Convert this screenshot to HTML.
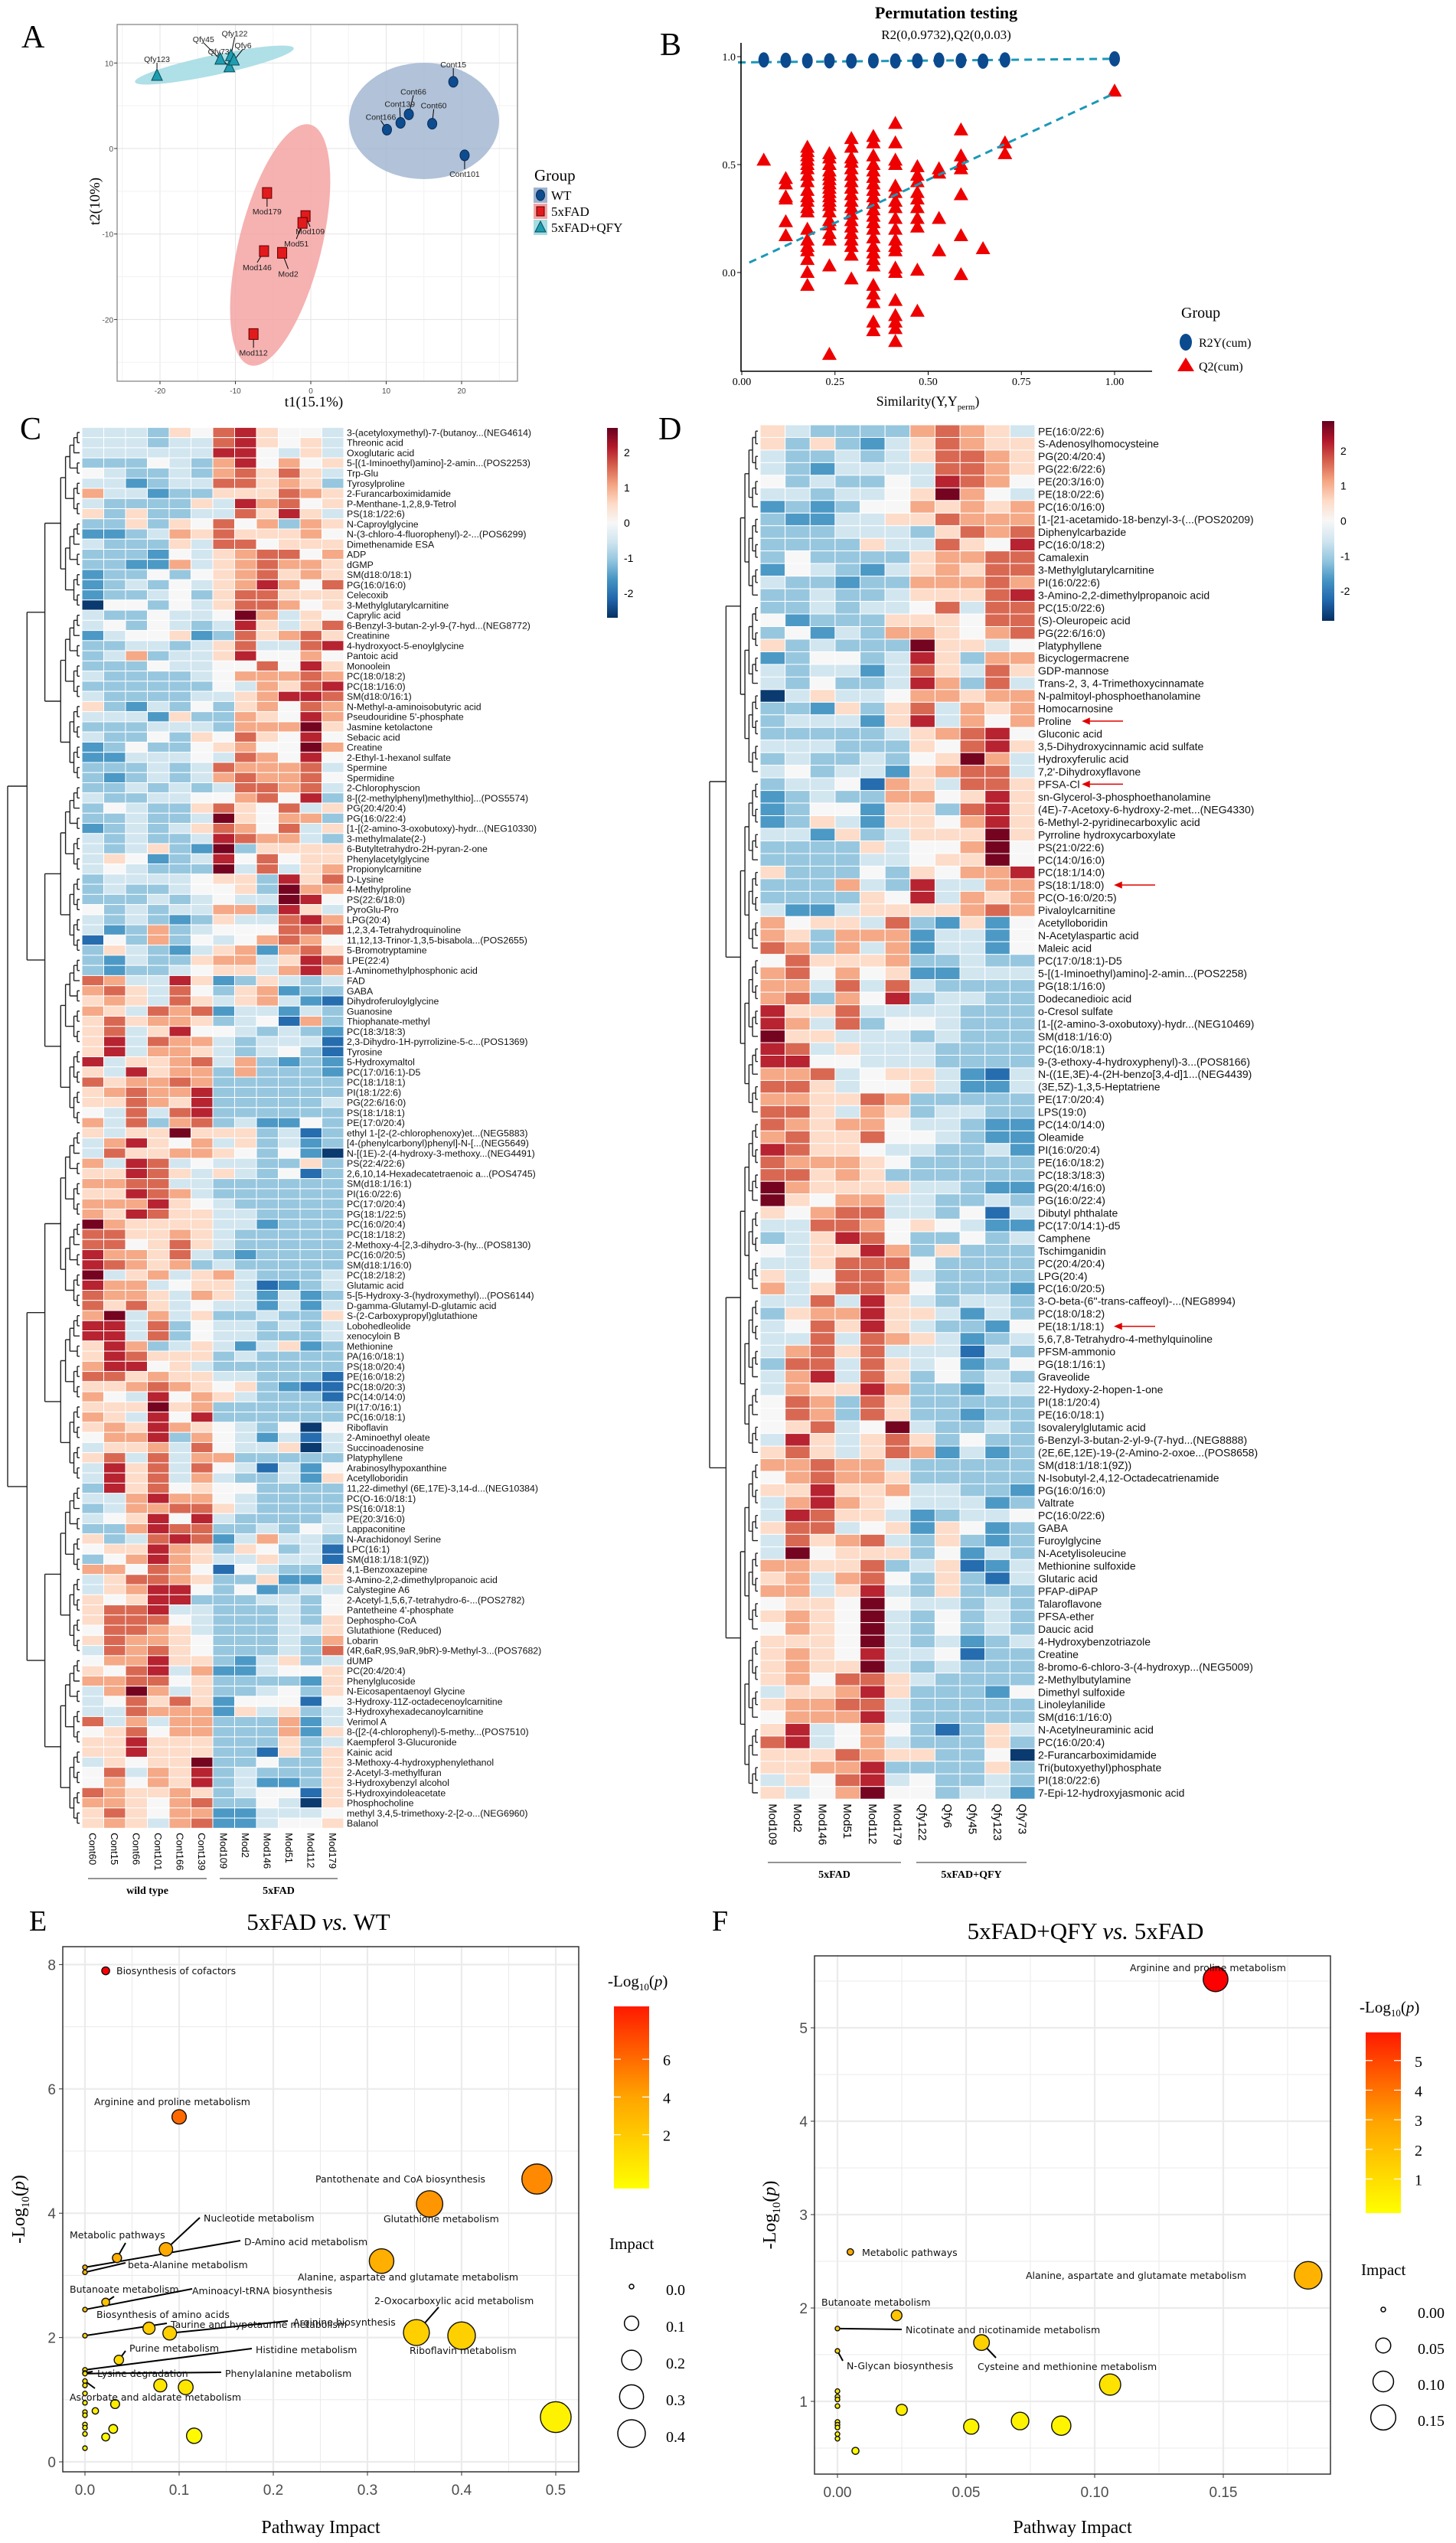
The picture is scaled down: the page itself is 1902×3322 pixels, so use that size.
<!DOCTYPE html>
<html><head><meta charset="utf-8"><title>Metabolomics figure</title>
<style>
html,body{margin:0;padding:0;background:#fff;}
svg{display:block;}
.sans{font-family:"Liberation Sans",Arial,sans-serif;}
.serif{font-family:"Liberation Serif","Times New Roman",serif;}
.dv{font-family:"DejaVu Sans","Liberation Sans",sans-serif;}
</style></head>
<body>
<svg id="fig" xmlns="http://www.w3.org/2000/svg" width="1902" height="3322" viewBox="0 0 1902 3322">
<defs>
<linearGradient id="hmGrad" x1="0" y1="0" x2="0" y2="1">
<stop offset="0" stop-color="#67001F"/><stop offset="0.1" stop-color="#B2182B"/><stop offset="0.2" stop-color="#D6604D"/><stop offset="0.3" stop-color="#F4A582"/><stop offset="0.4" stop-color="#FDDBC7"/><stop offset="0.5" stop-color="#F7F7F7"/><stop offset="0.6" stop-color="#D1E5F0"/><stop offset="0.7" stop-color="#92C5DE"/><stop offset="0.8" stop-color="#4393C3"/><stop offset="0.9" stop-color="#2166AC"/><stop offset="1" stop-color="#053061"/>
</linearGradient>
<linearGradient id="ylGrad" x1="0" y1="1" x2="0" y2="0">
<stop offset="0" stop-color="#FFFF00"/><stop offset="0.5" stop-color="#FFA500"/><stop offset="1" stop-color="#FF1A00"/>
</linearGradient>
</defs>
<text x="28" y="62" class="serif" font-size="42">A</text>
<text x="862" y="72" class="serif" font-size="42">B</text>
<text x="26" y="574" class="serif" font-size="42">C</text>
<text x="860" y="574" class="serif" font-size="42">D</text>
<text x="38" y="2522" class="serif" font-size="38">E</text>
<text x="930" y="2522" class="serif" font-size="38">F</text>
</svg>
<script>
// ================= DATA =================
const pcaNames = ["Qfy123","Qfy45","Qfy73","Qfy122","Qfy6","Cont15","Cont66","Cont139","Cont60","Cont166","Cont101","Mod179","Mod109","Mod51","Mod146","Mod2","Mod112"];
const pcaGroup = ["Q","Q","Q","Q","Q","W","W","W","W","W","W","M","M","M","M","M","M"];
const pcaT1 = [-20.4,-12.0,-10.8,-10.6,-10.2,18.9,13.0,11.9,16.1,10.1,20.4,-5.8,-0.7,-1.1,-6.2,-3.8,-7.6];
const pcaT2 = [8.5,10.4,9.5,10.8,10.3,7.8,4.0,3.0,2.9,2.2,-0.8,-5.2,-7.9,-8.7,-12.0,-12.2,-21.7];
const pcaTicksX = [-20,-10,0,10,20];
const pcaTicksY = [10,0,-10,-20];
const permX = [0.059,0.118,0.176,0.235,0.294,0.353,0.412,0.471,0.529,0.588,0.647,0.706,1.0];
const permR2 = [0.985,0.983,0.981,0.981,0.98,0.981,0.98,0.981,0.984,0.982,0.979,0.985,0.99];
const permQ2 = [
 [0.52],
 [0.435,0.41,0.35,0.34,0.235,0.17],
 [0.58,0.56,0.54,0.52,0.5,0.48,0.45,0.42,0.38,0.35,0.33,0.3,0.28,0.2,0.15,0.12,0.1,0.06,0.0,-0.06],
 [0.55,0.53,0.5,0.47,0.45,0.43,0.41,0.39,0.37,0.35,0.33,0.31,0.28,0.24,0.22,0.18,0.15,0.03,-0.38],
 [0.62,0.58,0.53,0.51,0.48,0.45,0.42,0.39,0.36,0.33,0.3,0.27,0.24,0.21,0.18,0.15,0.12,0.08,-0.03],
 [0.63,0.6,0.54,0.5,0.47,0.44,0.41,0.38,0.35,0.32,0.29,0.26,0.23,0.2,0.16,0.12,0.09,0.06,0.03,-0.06,-0.1,-0.14,-0.23,-0.27],
 [0.69,0.6,0.52,0.5,0.4,0.37,0.33,0.3,0.25,0.2,0.15,0.12,0.1,0.02,0.0,-0.13,-0.2,-0.23,-0.26,-0.32],
 [0.49,0.45,0.42,0.37,0.34,0.3,0.25,0.21,0.01,-0.18],
 [0.48,0.46,0.25,0.1],
 [0.66,0.54,0.5,0.48,0.36,0.17,-0.01],
 [0.11],
 [0.6,0.55],
 [0.84]];
const permTicksX = [0,0.25,0.5,0.75,1.0];
const permTickLabX = ["0.00","0.25","0.50","0.75","1.00"];
const permTicksY = [0,0.5,1.0];
const r2Line = [0.9732,0.99];
const q2Line = [0.03,0.83];
const hmCcols = ["Cont60","Cont15","Cont66","Cont101","Cont166","Cont139","Mod109","Mod2","Mod146","Mod51","Mod112","Mod179"];
const hmCrows = ["3-(acetyloxymethyl)-7-(butanoy...(NEG4614)","Threonic acid","Oxoglutaric acid","5-[(1-Iminoethyl)amino]-2-amin...(POS2253)","Trp-Glu","Tyrosylproline","2-Furancarboximidamide","P-Menthane-1,2,8,9-Tetrol","PS(18:1/22:6)","N-Caproylglycine","N-(3-chloro-4-fluorophenyl)-2-...(POS6299)","Dimethenamide ESA","ADP","dGMP","SM(d18:0/18:1)","PG(16:0/16:0)","Celecoxib","3-Methylglutarylcarnitine","Caprylic acid","6-Benzyl-3-butan-2-yl-9-(7-hyd...(NEG8772)","Creatinine","4-hydroxyoct-5-enoylglycine","Pantoic acid","Monoolein","PC(18:0/18:2)","PC(18:1/16:0)","SM(d18:0/16:1)","N-Methyl-a-aminoisobutyric acid","Pseudouridine 5'-phosphate","Jasmine ketolactone","Sebacic acid","Creatine","2-Ethyl-1-hexanol sulfate","Spermine","Spermidine","2-Chlorophyscion","8-[(2-methylphenyl)methylthio]...(POS5574)","PG(20:4/20:4)","PG(16:0/22:4)","[1-[(2-amino-3-oxobutoxy)-hydr...(NEG10330)","3-methylmalate(2-)","6-Butyltetrahydro-2H-pyran-2-one","Phenylacetylglycine","Propionylcarnitine","D-Lysine","4-Methylproline","PS(22:6/18:0)","PyroGlu-Pro","LPG(20:4)","1,2,3,4-Tetrahydroquinoline","11,12,13-Trinor-1,3,5-bisabola...(POS2655)","5-Bromotryptamine","LPE(22:4)","1-Aminomethylphosphonic acid","FAD","GABA","Dihydroferuloylglycine","Guanosine","Thiophanate-methyl","PC(18:3/18:3)","2,3-Dihydro-1H-pyrrolizine-5-c...(POS1369)","Tyrosine","5-Hydroxymaltol","PC(17:0/16:1)-D5","PC(18:1/18:1)","PI(18:1/22:6)","PG(22:6/16:0)","PS(18:1/18:1)","PE(17:0/20:4)","ethyl 1-[2-(2-chlorophenoxy)et...(NEG5883)","[4-(phenylcarbonyl)phenyl]-N-[...(NEG5649)","N-[(1E)-2-(4-hydroxy-3-methoxy...(NEG4491)","PS(22:4/22:6)","2,6,10,14-Hexadecatetraenoic a...(POS4745)","SM(d18:1/16:1)","PI(16:0/22:6)","PC(17:0/20:4)","PG(18:1/22:5)","PC(16:0/20:4)","PC(18:1/18:2)","2-Methoxy-4-[2,3-dihydro-3-(hy...(POS8130)","PC(16:0/20:5)","SM(d18:1/16:0)","PC(18:2/18:2)","Glutamic acid","5-[5-Hydroxy-3-(hydroxymethyl)...(POS6144)","D-gamma-Glutamyl-D-glutamic acid","S-(2-Carboxypropyl)glutathione","Lobohedleolide","xenocyloin B","Methionine","PA(16:0/18:1)","PS(18:0/20:4)","PE(16:0/18:2)","PC(18:0/20:3)","PC(14:0/14:0)","PI(17:0/16:1)","PC(16:0/18:1)","Riboflavin","2-Aminoethyl oleate","Succinoadenosine","Platyphyllene","Arabinosylhypoxanthine","Acetylloboridin","11,22-dimethyl (6E,17E)-3,14-d...(NEG10384)","PC(O-16:0/18:1)","PS(16:0/18:1)","PE(20:3/16:0)","Lappaconitine","N-Arachidonoyl Serine","LPC(16:1)","SM(d18:1/18:1(9Z))","4,1-Benzoxazepine","3-Amino-2,2-dimethylpropanoic acid","Calystegine A6","2-Acetyl-1,5,6,7-tetrahydro-6-...(POS2782)","Pantetheine 4'-phosphate","Dephospho-CoA","Glutathione (Reduced)","Lobarin","(4R,6aR,9S,9aR,9bR)-9-Methyl-3...(POS7682)","dUMP","PC(20:4/20:4)","Phenylglucoside","N-Eicosapentaenoyl Glycine","3-Hydroxy-11Z-octadecenoylcarnitine","3-Hydroxyhexadecanoylcarnitine","Verimol A","8-([2-(4-chlorophenyl)-5-methy...(POS7510)","Kaempferol 3-Glucuronide","Kainic acid","3-Methoxy-4-hydroxyphenylethanol","2-Acetyl-3-methylfuran","3-Hydroxybenzyl alcohol","5-Hydroxyindoleacetate","Phosphocholine","methyl 3,4,5-trimethoxy-2-[2-o...(NEG6960)","Balanol"];
const hmCvals = ["eeedgfijgffe","eeedeeijgfge","eeeeeejjfege","dddfedhjfhfg","feddedhigige","eecdeeiighgd","heecddgggihg","eddddgejhifg","gdgddeeigjge","ddgdgfifhdhg","ccdehgiggghf","edddgeiifggg","dddcfeghiifh","ddccheghihhg","cddfdfghighg","cdedfeghjhfi","cddefdgiiggg","affdfegiihfg","eddfeefkhegf","efdfedejgegi","ceffgcdighig","ddeedegieeij","dehdeegjffhf","dddfeeffifjg","eddddefhhhih","ddddddfehgij","eddddeeghjji","gdcedfdghfih","eeecgddhgfjh","dddeeedhhhkg","eddfdgfigfjf","cdfddfghffkh","cceeefeihfjf","dddedeihhhie","dcdedehihhif","ddededeiihie","eddeeffhifjd","dfeddgigfieg","ddeddekgfhhd","cdedegihfieg","ededdejihhed","edegdckdgggg","egfcdejfifgg","efedddkeiegh","deeeefggdjgi","deddeffgdkhh","dddedefeekjf","fdedeehhdjge","ededcdgeeijh","ecdhdefffiii","bfdhdfefhihf","dgedceghchig","dceddghhegji","dcddefggehjh","iheejgcdgede","higeifdghcdd","ghgeigeghecb","hgeihiceeced","gighhgdefbhd","giegjffededc","gjeihhedeeeb","gjehhgedefdb","jegghiehdcdc","gejghhdhdddc","ighhihdddddd","ghihhjdddddd","ggihgjddddde","feieijdddddd","heidhideccfd","geggkgggdebd","ehjgfhegdecd","eigghhgfdfca","hejiefeeddgd","ggjigegedfbd","hhiieedddddd","ggjihedddddd","hhhjgfeddddd","hgjiggeedddd","khggggeecddd","iigghgeddddd","iifgigeddddd","jhhgiedcdddd","jihghdeddddd","keghegheddde","jhhefggebcde","ihhgehgececd","igigefeecece","hkehegddeddg","jjeidfeedede","jjeidfeeddde","gjhdegecegcd","gjigggdedddd","hjjfgedddddd","iighggeedddb","gghihgfgdcbb","hfejfhgedddb","gggkghdddddd","hgejfjdddddd","ghgjhgfedfaf","fhhjdhfecebe","eggheifeegae","gieiehhddddd","ejgieifebecf","ejgieheddecg","djgifgffdddd","eehjhhfedddd","dehhiigedddd","efgjfjedddde","ddhjiiddedfe","gdeijiceheed","fggjhgdgfdeb","dfhjhgeegeeb","hhfihfbfeddg","egiihgddgccg","eghjjfdfcdee","gfgjjdddeedf","giijeedddedf","giiifedddedg","fiihgedddeeg","gihhgfdddedh","eihigfdddedi","fhhjggdcegde","gfijehcceffg","hhiifgddddcg","ehkhegddefdg","efigigcfffbf","eeihhhcgegde","iehehhdddhce","fgifhhdddhcg","ggjgggdddgde","ggjgggddbgdg","egfggkddfddg","fiehgjdedddg","fhfhgjdeccdg","ihgghgdeffbg","hhgfhiddfeag","gigfhhcceeef","ghgehicceffg"];
const hmCgroups = ["wild type","5xFAD"];
const hmDcols = ["Mod109","Mod2","Mod146","Mod51","Mod112","Mod179","Qfy122","Qfy6","Qfy45","Qfy123","Qfy73"];
const hmDrows = ["PE(16:0/22:6)","S-Adenosylhomocysteine","PG(20:4/20:4)","PG(22:6/22:6)","PE(20:3/16:0)","PE(18:0/22:6)","PC(16:0/16:0)","[1-[21-acetamido-18-benzyl-3-(...(POS20209)","Diphenylcarbazide","PC(16:0/18:2)","Camalexin","3-Methylglutarylcarnitine","PI(16:0/22:6)","3-Amino-2,2-dimethylpropanoic acid","PC(15:0/22:6)","(S)-Oleuropeic acid","PG(22:6/16:0)","Platyphyllene","Bicyclogermacrene","GDP-mannose","Trans-2, 3, 4-Trimethoxycinnamate","N-palmitoyl-phosphoethanolamine","Homocarnosine","Proline","Gluconic acid","3,5-Dihydroxycinnamic acid sulfate","Hydroxyferulic acid","7,2'-Dihydroxyflavone","PFSA-Cl","sn-Glycerol-3-phosphoethanolamine","(4E)-7-Acetoxy-6-hydroxy-2-met...(NEG4330)","6-Methyl-2-pyridinecarboxylic acid","Pyrroline hydroxycarboxylate","PS(21:0/22:6)","PC(14:0/16:0)","PC(18:1/14:0)","PS(18:1/18:0)","PC(O-16:0/20:5)","Pivaloylcarnitine","Acetylloboridin","N-Acetylaspartic acid","Maleic acid","PC(17:0/18:1)-D5","5-[(1-Iminoethyl)amino]-2-amin...(POS2258)","PG(18:1/16:0)","Dodecanedioic acid","o-Cresol sulfate","[1-[(2-amino-3-oxobutoxy)-hydr...(NEG10469)","SM(d18:1/16:0)","PC(16:0/18:1)","9-(3-ethoxy-4-hydroxyphenyl)-3...(POS8166)","N-((1E,3E)-4-(2H-benzo[3,4-d]1...(NEG4439)","(3E,5Z)-1,3,5-Heptatriene","PE(17:0/20:4)","LPS(19:0)","PC(14:0/14:0)","Oleamide","PI(16:0/20:4)","PE(16:0/18:2)","PC(18:3/18:3)","PG(20:4/16:0)","PG(16:0/22:4)","Dibutyl phthalate","PC(17:0/14:1)-d5","Camphene","Tschimganidin","PC(20:4/20:4)","LPG(20:4)","PC(16:0/20:5)","3-O-beta-(6''-trans-caffeoyl)-...(NEG8994)","PC(18:0/18:2)","PE(18:1/18:1)","5,6,7,8-Tetrahydro-4-methylquinoline","PFSM-ammonio","PG(18:1/16:1)","Graveolide","22-Hydoxy-2-hopen-1-one","PI(18:1/20:4)","PE(16:0/18:1)","Isovalerylglutamic acid","6-Benzyl-3-butan-2-yl-9-(7-hyd...(NEG8888)","(2E,6E,12E)-19-(2-Amino-2-oxoe...(POS8658)","SM(d18:1/18:1(9Z))","N-Isobutyl-2,4,12-Octadecatrienamide","PG(16:0/16:0)","Valtrate","PC(16:0/22:6)","GABA","Furoylglycine","N-Acetylisoleucine","Methionine sulfoxide","Glutaric acid","PFAP-diPAP","Talaroflavone","PFSA-ether","Daucic acid","4-Hydroxybenzotriazole","Creatine","8-bromo-6-chloro-3-(4-hydroxyp...(NEG5009)","2-Methylbutylamine","Dimethyl sulfoxide","Linoleylanilide","SM(d16:1/16:0)","N-Acetylneuraminic acid","PC(16:0/20:4)","2-Furancarboximidamide","Tri(butoxyethyl)phosphate","PI(18:0/22:6)","7-Epi-12-hydroxyjasmonic acid"];
const hmDvals = ["geddddhihge","gdgdcegihgg","eddedegiihg","edceeeeiihg","fdeddfejihf","eedeefgkhfe","cdcdffhghgh","dcceeggihhh","dddeeedgihi","ddddgeeigfj","dfddddghhii","cfedceghgii","eddcddhhhih","ddeddegggij","ddedeefieii","fcdddgggfii","dfcedhhgfhi","gdedddkggef","cdffdejgdhh","edeeceigeig","edfddejhdie","aegeefhhghh","ddcgdgiehgh","deeecgjehfh","dddddeghijf","eeedddgfijg","deddedfgkhe","efdeecghiie","deefbhgeiig","cdeddhhfgjg","cdffcggdijg","cdgecggfhjg","eecgdegggkg","ddddgeffhkf","ddddeefggkf","gdddfdgfhhj","dddhedjeehh","ddddgfjehgh","eccegggghih","hfggeidcgcf","hgdhhhceecf","ihdhehceecf","figgghddedd","hifhfgcceee","hheieiedddd","hidhfjdeedd","jggieeeeddd","jheidffeddd","kggeeededdd","jiegeeedddd","jjffeeedddd","hhiefggecbe","iigeffgecce","hhggihddddd","iigehgdeedd","ihghhfeedcc","higgiffedcc","jiggfeeddec","ihhhgfddddd","iighgdddddd","khggggeedcc","kgfhheedded","gfhiieedfbe","eeiihfgfecc","degjifddfde","feggjhdgddd","eegiiifdddd","gefiihedddd","hegiihfdddc","eeiejgedeed","dghhjggeced","efigjgeddcf","eeieihgecde","ehigieeebed","diieigefcdf","ehjeigdfded","ehggjhddcee","fihdigddddd","fihdigddcdd","fgiefkedded","ejgegigdfdd","gigegihcecd","hhihheddddd","fhihhgddddd","ggjggheeddc","ehjhgfeeecd","ejiggecdeef","giiefgcgfcd","eighiedgdcd","ekfgggdfced","hhggidegbce","ghehifdgdbe","hhegjedgddd","fggfkfeeded","ghgfkedfded","fhgfkedfded","gggfkedecde","ghgfjeefbdd","ghggkededdd","ghfiigedddd","egghjgdddcf","ghhiieddddd","fhhhjeddddd","gjefhfdbdge","ijefhedddgd","gggihggddfa","gghhjddddgd","egfijefdded","gefhkffdeec"];
const hmDarrows = ["Proline","PFSA-Cl","PS(18:1/18:0)","PE(18:1/18:1)"];
const hmDgroups = ["5xFAD","5xFAD+QFY"];
const hmTicks = [2,1,0,-1,-2];
const pathEnames = ["Biosynthesis of cofactors","Arginine and proline metabolism","Pantothenate and CoA biosynthesis","Glutathione metabolism","Alanine, aspartate and glutamate metabolism","Metabolic pathways","Nucleotide metabolism","D-Amino acid metabolism","beta-Alanine metabolism","Butanoate metabolism","Aminoacyl-tRNA biosynthesis","Biosynthesis of amino acids","Taurine and hypotaurine metabolism","Arginine biosynthesis","2-Oxocarboxylic acid metabolism","Riboflavin metabolism","Purine metabolism","Histidine metabolism","Lysine degradation","Phenylalanine metabolism","Ascorbate and aldarate metabolism","","","","","","","","","","","","","","","",""];
const pathEimpact = [0.022,0.1,0.48,0.366,0.315,0.034,0.086,0,0,0.022,0,0,0.068,0.09,0.352,0.4,0.036,0,0,0,0,0.08,0.107,0,0,0,0.032,0.011,0,0,0,0,0,0.03,0.022,0.116,0,0.5];
const pathElogp = [7.9,5.55,4.55,4.15,3.23,3.28,3.42,3.13,3.05,2.57,2.45,2.03,2.15,2.07,2.08,2.03,1.64,1.48,1.43,1.42,1.3,1.23,1.2,1.1,1.23,0.95,0.93,0.82,0.8,0.75,0.6,0.55,0.45,0.53,0.4,0.42,0.22,0.72];
const pathEticksX = [0,0.1,0.2,0.3,0.4,0.5];
const pathEticksY = [0,2,4,6,8];
const pathElegImpact = [0.0,0.1,0.2,0.3,0.4];
const pathElegColor = [2,4,6];
const pathFnames = ["Arginine and proline metabolism","Alanine, aspartate and glutamate metabolism","Metabolic pathways","Butanoate metabolism","Nicotinate and nicotinamide metabolism","Cysteine and methionine metabolism","N-Glycan biosynthesis","","","","","","","","","","","","","","",""];
const pathFimpact = [0.147,0.183,0.005,0.023,0,0.056,0,0.106,0.025,0.052,0.071,0.087,0.007,0,0,0,0,0,0,0,0,0];
const pathFlogp = [5.52,2.35,2.6,1.92,1.78,1.63,1.54,1.18,0.91,0.73,0.79,0.74,0.47,1.11,1.05,1.02,0.95,0.78,0.75,0.72,0.65,0.6];
const pathFticksX = [0,0.05,0.1,0.15];
const pathFtickLabX = ["0.00","0.05","0.10","0.15"];
const pathFticksY = [1,2,3,4,5];
const pathFlegImpact = [0.0,0.05,0.10,0.15];
const pathFlegLab = ["0.00","0.05","0.10","0.15"];
const pathFlegColor = [1,2,3,4,5];

// ================= HELPERS =================
const NS = 'http://www.w3.org/2000/svg';
const svg = document.getElementById('fig');
function mk(tag, attrs, parent){ const e = document.createElementNS(NS, tag); for (const k in attrs) e.setAttribute(k, attrs[k]); (parent || svg).appendChild(e); return e; }
function tx(str, attrs, parent){ const e = mk('text', attrs, parent); e.textContent = str; return e; }
function grp(parent){ return mk('g', {}, parent); }
const PAL = [[5,48,97],[33,102,172],[67,147,195],[146,197,222],[209,229,240],[247,247,247],[253,219,199],[244,165,130],[214,96,77],[178,24,43],[103,0,31]];
function rdbu(v){ let t = (v + 2.7) / 5.4 * 10; t = Math.max(0, Math.min(10, t)); const i = Math.min(9, Math.floor(t)), f = t - i; const a = PAL[i], b = PAL[i+1]; return 'rgb(' + [0,1,2].map(k => Math.round(a[k] + (b[k]-a[k])*f)).join(',') + ')'; }
function codeVal(ch){ return (ch.charCodeAt(0) - 102) * 0.52; }
function ylred(v, vmin, vmax){ const t = Math.max(0, Math.min(1, (v - vmin) / (vmax - vmin))); const g = Math.round(255 * Math.pow(1 - t, 0.75)); return 'rgb(255,' + g + ',0)'; }

// ================= PANEL A =================
(function(){
  const g = grp();
  
  
  const L = 153, R = 676, T = 32, B = 498;
  const sx = t => 406 + t * 9.85, sy = t => 194 - t * 11.17;
  const bg = mk('rect', {x:L, y:T, width:R-L, height:B-T, fill:'#fff'}, g);
  
  
  for (let v = -25; v <= 25; v += 5) {
    const X = sx(v); if (X < L || X > R) continue;
    const gl = mk('line', {x1:X, x2:X, y1:T, y2:B, stroke: v % 10 === 0 ? '#E3E3E3' : '#F2F2F2', 'stroke-width':1}, g);
    
    
  }
  for (let v = -25; v <= 15; v += 5) {
    const Y = sy(v); if (Y < T || Y > B) continue;
    const gl = mk('line', {x1:L, x2:R, y1:Y, y2:Y, stroke: v % 10 === 0 ? '#E3E3E3' : '#F2F2F2', 'stroke-width':1}, g);
    
    
  }
  const e1 = mk('ellipse', {cx:554, cy:158, rx:98, ry:76, fill:'#9DB3D0', 'fill-opacity':0.8}, g);
  
  
  const e2 = mk('ellipse', {cx:366, cy:320, rx:54, ry:162, fill:'#F4A3A3', 'fill-opacity':0.85, transform:'rotate(14 366 320)'}, g);
  
  
  const e3 = mk('ellipse', {cx:280, cy:85, rx:106, ry:13, fill:'#A6DCE4', 'fill-opacity':0.9, transform:'rotate(-12 280 85)'}, g);
  
  
  const labDX = [0,-22,-14,5,12,0,6,-1,2,-8,0,0,6,-8,-9,8,0];
  const labDY = [-22,-27,-21,-30,-20,-23,-30,-25,-24,-17,24,24,20,27,21,27,24];
  pcaNames.forEach((n, i) => {
    const X = sx(pcaT1[i]), Y = sy(pcaT2[i]);
    const lx = X + labDX[i], ly = Y + labDY[i];
    const ln = mk('line', {x1:X, y1:Y, x2:lx, y2: ly + (labDY[i] < 0 ? 5 : -6), stroke:'#000', 'stroke-width':1}, g);
    
    
    const lt = tx(n, {x:lx, y:ly + 4, 'text-anchor':'middle', 'font-size':10.5, class:'sans', fill:'#222'}, g);
    
    
  });
  pcaNames.forEach((n, i) => {
    const X = sx(pcaT1[i]), Y = sy(pcaT2[i]);
    let m;
    if (pcaGroup[i] === 'W') m = mk('ellipse', {cx:X, cy:Y, rx:6, ry:7, fill:'#0D4C8F', stroke:'#0a2a55', 'stroke-width':1}, g);
    else if (pcaGroup[i] === 'M') m = mk('rect', {x:X-6, y:Y-7, width:12, height:14, fill:'#E31A1C', stroke:'#5a0000', 'stroke-width':1}, g);
    else m = mk('path', {d:'M'+X+' '+(Y-9)+' L'+(X+7)+' '+(Y+6)+' L'+(X-7)+' '+(Y+6)+' Z', fill:'#1F9DB0', stroke:'#0b4a55', 'stroke-width':1}, g);
    
    
  });
  const fr = mk('rect', {x:L, y:T, width:R-L, height:B-T, fill:'none', stroke:'#7F7F7F', 'stroke-width':1.2}, g);
  
  
  pcaTicksX.forEach(v => {
    const X = sx(v);
    const tk = mk('line', {x1:X, x2:X, y1:B, y2:B+4, stroke:'#333'}, g);
    
    
    const tl = tx(String(v), {x:X, y:B+16, 'text-anchor':'middle', 'font-size':10, class:'sans', fill:'#4D4D4D'}, g);
    
    
  });
  pcaTicksY.forEach(v => {
    const Y = sy(v);
    const tk = mk('line', {x1:L-4, x2:L, y1:Y, y2:Y, stroke:'#333'}, g);
    
    
    const tl = tx(String(v), {x:L-5, y:Y+4, 'text-anchor':'end', 'font-size':10, class:'sans', fill:'#4D4D4D'}, g);
    
    
  });
  const xt = tx('t1(15.1%)', {x:410, y:531, 'text-anchor':'middle', 'font-size':19, class:'serif'}, g);
  
  
  const yt = tx('t2(10%)', {x:0, y:0, 'text-anchor':'middle', 'font-size':19, class:'serif', transform:'translate(130 263) rotate(-90)'}, g);
  
  
  const lg = tx('Group', {x:698, y:236, 'font-size':21, class:'serif'}, g);
  
  
  const legLab = ['WT','5xFAD','5xFAD+QFY'], legBg = ['#9DB3D0','#F4A3A3','#A6DCE4'], legY = [255,276,297];
  legLab.forEach((l, i) => {
    const r = mk('rect', {x:697, y:legY[i]-10, width:18, height:20, fill:legBg[i]}, g);
    
    
    let m;
    if (i === 0) m = mk('ellipse', {cx:706, cy:legY[i], rx:5.5, ry:7, fill:'#0D4C8F', stroke:'#0a2a55'}, g);
    else if (i === 1) m = mk('rect', {x:701, y:legY[i]-6, width:10, height:12, fill:'#E31A1C', stroke:'#5a0000'}, g);
    else m = mk('path', {d:'M706 '+(legY[i]-8)+' L713 '+(legY[i]+6)+' L699 '+(legY[i]+6)+' Z', fill:'#1F9DB0', stroke:'#0b4a55'}, g);
    
    
    const t = tx(l, {x:720, y:legY[i]+6, 'font-size':17, class:'serif'}, g);
    
    
  });
})();

// ================= PANEL B =================
(function(){
  const g = grp();
  
  
  const sx = v => 969 + v * 487, sy = v => 356 - v * 282;
  const t1 = tx('Permutation testing', {x:1236, y:24, 'text-anchor':'middle', 'font-size':22, 'font-weight':'bold', class:'serif'}, g);
  
  
  const t2 = tx('R2(0,0.9732),Q2(0,0.03)', {x:1236, y:51, 'text-anchor':'middle', 'font-size':17, class:'serif'}, g);
  
  
  const l1 = mk('line', {x1:sx(-0.01), y1:sy(r2Line[0]), x2:sx(1), y2:sy(r2Line[1]), stroke:'#1B98B8', 'stroke-width':3, 'stroke-dasharray':'10 7'}, g);
  
  
  permQ2.forEach((col, i) => col.forEach(v => {
    const X = sx(permX[i]), Y = sy(v);
    const p = mk('path', {d:'M'+X+' '+(Y-10)+' L'+(X+9.5)+' '+(Y+7)+' L'+(X-9.5)+' '+(Y+7)+' Z', fill:'#EE0000'}, g);
    
    
  }));
  const l2 = mk('line', {x1:sx(0.02), y1:sy(q2Line[0] + 0.02*(q2Line[1]-q2Line[0])), x2:sx(1), y2:sy(q2Line[1]), stroke:'#1B98B8', 'stroke-width':3, 'stroke-dasharray':'10 7'}, g);
  
  
  permX.forEach((x, i) => {
    const c = mk('ellipse', {cx:sx(x), cy:sy(permR2[i]), rx:7, ry:10, fill:'#0B4A8E'}, g);
    
    
  });
  const ax = mk('path', {d:'M968 56 L968 485 L1505 485', fill:'none', stroke:'#000', 'stroke-width':1.6}, g);
  
  
  permTicksX.forEach((v, i) => {
    const tk = mk('line', {x1:sx(v), x2:sx(v), y1:485, y2:490, stroke:'#000'}, g);
    
    
    const tl = tx(permTickLabX[i], {x:sx(v), y:503, 'text-anchor':'middle', 'font-size':14, class:'serif'}, g);
    
    
  });
  permTicksY.forEach(v => {
    const tk = mk('line', {x1:963, x2:968, y1:sy(v), y2:sy(v), stroke:'#000'}, g);
    
    
    const tl = tx(v.toFixed(1), {x:961, y:sy(v)+5, 'text-anchor':'end', 'font-size':14, class:'serif'}, g);
    
    
  });
  const xt = tx('', {x:1212, y:530, 'text-anchor':'middle', 'font-size':18, class:'serif'}, g);
  
  
  const s1 = mk('tspan', {}, xt); s1.textContent = 'Similarity(Y,Y';
  const s2 = mk('tspan', {'font-size':11, dy:5}, xt); s2.textContent = 'perm';
  const s3 = mk('tspan', {dy:-5}, xt); s3.textContent = ')';
  const lg = tx('Group', {x:1543, y:415, 'font-size':20, class:'serif'}, g);
  
  
  const c = mk('ellipse', {cx:1549, cy:447, rx:8, ry:11, fill:'#0B4A8E'}, g);
  
  
  const t = mk('path', {d:'M1549 467 L1560 485 L1538 485 Z', fill:'#EE0000'}, g);
  
  
  const la = tx('R2Y(cum)', {x:1566, y:453, 'font-size':16, class:'serif'}, g);
  
  
  const lb = tx('Q2(cum)', {x:1566, y:484, 'font-size':16, class:'serif'}, g);
  
  
})();

// ================= HEATMAPS =================
function drawHeat(cfg){
  const g = grp();
  
  
  const nR = cfg.rows.length, nC = cfg.cols.length;
  const cw = (cfg.x1 - cfg.x0) / nC;
  const dg = grp(g);
  
  
  let maxH = 0;
  function build(lo, hi){
    if (lo === hi) return {y: cfg.y0 + (lo + 0.5) * cfg.rh, h: 0, kids: null};
    const mid = Math.floor((lo + hi) / 2);
    const a = build(lo, mid), b = build(mid + 1, hi);
    const h = Math.max(a.h, b.h) + 1 + (hi - lo > 30 ? 2 : 0);
    maxH = Math.max(maxH, h);
    return {y: (a.y + b.y) / 2, h: h, kids: [a, b]};
  }
  const root = build(0, nR - 1);
  const xs = h => cfg.leafX - (cfg.leafX - cfg.rootX) * Math.pow(h / maxH, 1.3);
  let dpath = '';
  (function walk(n){
    if (!n.kids) return;
    const X = xs(n.h);
    n.kids.forEach(k => { dpath += 'M' + xs(k.h).toFixed(1) + ' ' + k.y.toFixed(1) + 'H' + X.toFixed(1); walk(k); });
    dpath += 'M' + X.toFixed(1) + ' ' + n.kids[0].y.toFixed(1) + 'V' + n.kids[1].y.toFixed(1);
  })(root);
  const dp = mk('path', {d:dpath, fill:'none', stroke:'#222', 'stroke-width':1.4}, dg);
  
  
  cfg.vals.forEach((row, r) => {
    for (let c = 0; c < nC; c++) {
      const cell = mk('rect', {x:(cfg.x0 + c*cw).toFixed(2), y:(cfg.y0 + r*cfg.rh).toFixed(2), width:cw.toFixed(2), height:cfg.rh.toFixed(2), fill:rdbu(codeVal(row[c])), stroke:'#fff', 'stroke-width':1}, g);
      
      
    }
  });
  cfg.rows.forEach((lab, r) => {
    const t = tx(lab, {x:cfg.x1 + 4, y:(cfg.y0 + (r + 0.5) * cfg.rh + cfg.fs * 0.36).toFixed(1), 'font-size':cfg.fs, class:'sans', fill:'#111'}, g);
    
    
    if (cfg.arrows && cfg.arrows.indexOf(lab) >= 0) {
      const ay = cfg.y0 + (r + 0.5) * cfg.rh;
      const ax0 = cfg.x1 + 8 + lab.length * cfg.fs * 0.5;
      const ar = mk('path', {d:'M' + (ax0 + 58) + ' ' + ay + 'H' + (ax0 + 6) + 'M' + (ax0 + 6) + ' ' + ay + 'l8 -3.5v7z', stroke:'#E00000', fill:'#E00000', 'stroke-width':1.5}, g);
      
      
    }
  });
  const yb = cfg.y0 + nR * cfg.rh;
  cfg.cols.forEach((lab, c) => {
    const X = cfg.x0 + (c + 0.5) * cw - 5;
    const t = tx(lab, {x:0, y:0, 'font-size':cfg.cfs, class:'sans', transform:'translate(' + X.toFixed(1) + ' ' + (yb + 6) + ') rotate(90)'}, g);
    
    
  });
  cfg.groups.forEach((gl, i) => {
    const ln = mk('line', {x1:cfg.grpLines[i][0], x2:cfg.grpLines[i][1], y1:cfg.grpY, y2:cfg.grpY, stroke:'#555', 'stroke-width':1.3}, g);
    
    
    const t = tx(gl, {x:(cfg.grpLines[i][0] + cfg.grpLines[i][1]) / 2, y:cfg.grpY + 20, 'text-anchor':'middle', 'font-size':14, 'font-weight':'bold', class:'serif'}, g);
    
    
  });
  const cb = mk('rect', {x:cfg.cbx, y:cfg.cbTop, width:cfg.cbw, height:cfg.cbBot - cfg.cbTop, fill:'url(#hmGrad)'}, g);
  
  
  const zero = (cfg.cbTop + cfg.cbBot) / 2, unit = (cfg.cbBot - cfg.cbTop) / (2 * cfg.cbMax);
  hmTicks.forEach(v => {
    const t = tx(String(v), {x:cfg.cbx + cfg.cbw + 8, y:(zero - v * unit + 5).toFixed(1), 'font-size':14, class:'sans'}, g);
    
    
  });
}
drawHeat({name:'heatmap-c', rows:hmCrows, cols:hmCcols, vals:hmCvals, x0:107, x1:449, y0:558.4, rh:13.26, fs:12.3, cfs:13, leafX:104, rootX:10,
  groups:hmCgroups, grpLines:[[115,270],[287,441]], grpY:2454, cbx:793, cbw:14, cbTop:559, cbBot:807, cbMax:2.7});
drawHeat({name:'heatmap-d', rows:hmDrows, cols:hmDcols, vals:hmDvals, x0:993, x1:1352, y0:555, rh:16.47, fs:14, cfs:15, leafX:990, rootX:927, arrows:hmDarrows,
  groups:hmDgroups, grpLines:[[1003,1177],[1197,1341]], grpY:2433, cbx:1727, cbw:16, cbTop:550, cbBot:811, cbMax:2.85});

// ================= PATHWAY PLOTS =================
function drawPath(cfg){
  const g = grp();
  
  
  const sx = v => cfg.x0px + v * cfg.xk, sy = v => cfg.y0px - v * cfg.yk;
  const bg = mk('rect', {x:cfg.L, y:cfg.T, width:cfg.R - cfg.L, height:cfg.B - cfg.T, fill:'#fff'}, g);
  
  
  for (let v = cfg.xmin; v <= cfg.xmax + 1e-9; v += cfg.xstep / 2) {
    const X = sx(v); if (X < cfg.L || X > cfg.R) continue;
    const gl = mk('line', {x1:X, x2:X, y1:cfg.T, y2:cfg.B, stroke:'#EBEBEB', 'stroke-width': (Math.abs(v / cfg.xstep - Math.round(v / cfg.xstep)) < 1e-6) ? 2.2 : 1.1}, g);
    
    
  }
  for (let v = cfg.ymin; v <= cfg.ymax + 1e-9; v += cfg.ystep / 2) {
    const Y = sy(v); if (Y < cfg.T || Y > cfg.B) continue;
    const gl = mk('line', {x1:cfg.L, x2:cfg.R, y1:Y, y2:Y, stroke:'#EBEBEB', 'stroke-width': (Math.abs(v / cfg.ystep - Math.round(v / cfg.ystep)) < 1e-6) ? 2.2 : 1.1}, g);
    
    
  }
  cfg.lines.forEach(l => {
    const i = l[0];
    const ln = mk('line', {x1:sx(cfg.impact[i]), y1:sy(cfg.logp[i]), x2:l[1], y2:l[2], stroke:'#000', 'stroke-width':2}, g);
    
    
  });
  const order = cfg.impact.map((v, i) => i).sort((a, b) => cfg.impact[b] - cfg.impact[a]);
  order.forEach(i => {
    const c = mk('circle', {cx:sx(cfg.impact[i]), cy:sy(cfg.logp[i]), r:Math.sqrt(9 + cfg.rk * cfg.impact[i]).toFixed(2), fill:ylred(cfg.logp[i], cfg.cmin, cfg.cmax), stroke:'#111', 'stroke-width':1.4}, g);
    
    
  });
  cfg.labels.forEach(l => {
    const t = tx(cfg.names[l[0]], {x:l[1], y:l[2] + 5, 'font-size':12.5, class:'dv', fill:'#111'}, g);
    
    
  });
  const fr = mk('rect', {x:cfg.L, y:cfg.T, width:cfg.R - cfg.L, height:cfg.B - cfg.T, fill:'none', stroke:'#333', 'stroke-width':1.5}, g);
  
  
  cfg.ticksX.forEach((v, k) => {
    const tk = mk('line', {x1:sx(v), x2:sx(v), y1:cfg.B, y2:cfg.B + 5, stroke:'#333'}, g);
    
    
    const tl = tx(cfg.tickLabX[k], {x:sx(v), y:cfg.B + 30, 'text-anchor':'middle', 'font-size':19, class:'sans', fill:'#4D4D4D'}, g);
    
    
  });
  cfg.ticksY.forEach(v => {
    const tk = mk('line', {x1:cfg.L - 5, x2:cfg.L, y1:sy(v), y2:sy(v), stroke:'#333'}, g);
    
    
    const tl = tx(String(v), {x:cfg.L - 9, y:sy(v) + 7, 'text-anchor':'end', 'font-size':19, class:'sans', fill:'#4D4D4D'}, g);
    
    
  });
  const title = tx('', {x:cfg.titleX, y:cfg.T - 22, 'text-anchor':'middle', 'font-size':31, class:'serif'}, g);
  
  
  const ta = mk('tspan', {}, title); ta.textContent = cfg.title[0] + ' ';
  const tb = mk('tspan', {'font-style':'italic'}, title); tb.textContent = 'vs.';
  const tc = mk('tspan', {}, title); tc.textContent = ' ' + cfg.title[1];
  const xt = tx('Pathway Impact', {x:(cfg.L + cfg.R) / 2, y:3309, 'text-anchor':'middle', 'font-size':24, class:'serif'}, g);
  
  
  const yc = (cfg.T + cfg.B) / 2;
  const yt = tx('', {x:0, y:0, 'text-anchor':'middle', 'font-size':24, class:'serif', transform:'translate(' + cfg.ytX + ' ' + yc + ') rotate(-90)'}, g);
  
  
  const y1 = mk('tspan', {}, yt); y1.textContent = '-Log';
  const y2 = mk('tspan', {'font-size':15, dy:6}, yt); y2.textContent = '10';
  const y3 = mk('tspan', {dy:-6}, yt); y3.textContent = '(';
  const y4 = mk('tspan', {'font-style':'italic'}, yt); y4.textContent = 'p';
  const y5 = mk('tspan', {}, yt); y5.textContent = ')';
  const ct = tx('', {x:cfg.cbx - 8, y:cfg.cbTop - 26, 'font-size':21, class:'serif'}, g);
  
  
  const c1 = mk('tspan', {}, ct); c1.textContent = '-Log';
  const c2 = mk('tspan', {'font-size':13, dy:5}, ct); c2.textContent = '10';
  const c3 = mk('tspan', {dy:-5}, ct); c3.textContent = '(';
  const c4 = mk('tspan', {'font-style':'italic'}, ct); c4.textContent = 'p';
  const c5 = mk('tspan', {}, ct); c5.textContent = ')';
  const cb = mk('rect', {x:cfg.cbx, y:cfg.cbTop, width:46, height:cfg.cbBot - cfg.cbTop, fill:'url(#ylGrad)'}, g);
  
  
  const cbScale = v => cfg.cbBot - (v - cfg.cbLo) / (cfg.cbHi - cfg.cbLo) * (cfg.cbBot - cfg.cbTop);
  cfg.legColor.forEach(v => {
    const Y = cbScale(v);
    const tk = mk('path', {d:'M' + cfg.cbx + ' ' + Y + 'h9M' + (cfg.cbx + 37) + ' ' + Y + 'h9', stroke:'#fff', 'stroke-width':1.2}, g);
    
    
    const t = tx(String(v), {x:cfg.cbx + 64, y:Y + 8, 'font-size':20, class:'serif'}, g);
    
    
  });
  const st = tx('Impact', {x:cfg.cbx - 6, y:cfg.szTitleY, 'font-size':21, class:'serif'}, g);
  
  
  cfg.legImpact.forEach((v, k) => {
    const Y = cfg.szY0 + k * cfg.szDy;
    const c = mk('circle', {cx:cfg.cbx + 23, cy:Y, r:Math.sqrt(9 + cfg.rk * v).toFixed(2), fill:'none', stroke:'#000', 'stroke-width':1.5}, g);
    
    
    const t = tx(cfg.legLab[k], {x:cfg.cbx + 68, y:Y + 11, 'font-size':20, class:'serif'}, g);
    
    
  });
}
drawPath({name:'pathway-plot-e', names:pathEnames, impact:pathEimpact, logp:pathElogp,
  L:82, R:756, T:2543, B:3229, x0px:111, xk:1230, y0px:3216, yk:81.2, xmin:-0.05, xmax:0.55, xstep:0.1, ymin:-1, ymax:9, ystep:2,
  rk:787, cmin:0.2, cmax:7.9, ticksX:pathEticksX, tickLabX:pathEticksX.map(v => v.toFixed(1)), ticksY:pathEticksY,
  title:['5xFAD','WT'], titleX:416, ytX:32,
  cbx:802, cbTop:2621, cbBot:2859, cbLo:-0.85, cbHi:8.8, legColor:pathElegColor,
  szTitleY:2938, szY0:2987, szDy:48, legImpact:pathElegImpact, legLab:pathElegImpact.map(v => v.toFixed(1)),
  lines:[[5,164,2930],[6,261,2897],[7,314,2927],[8,164,2956],[10,251,2990],[11,218,3035],[13,376,3032],[14,573,3014],[16,164,3071],[17,329,3068],[19,289,3099],[18,121,3098],[20,124,3120],[9,149,3000]],
  labels:[[0,152,2574],[1,123,2745],[2,412,2846],[3,501,2898],[6,266,2897],[5,91,2919],[7,319,2928],[8,167,2958],[4,389,2974],[9,91,2990],[10,251,2992],[14,489,3005],[11,126,3023],[12,223,3036],[13,383,3033],[16,169,3067],[17,334,3069],[15,535,3070],[18,127,3100],[19,294,3100],[20,91,3131]]});
drawPath({name:'pathway-plot-f', names:pathFnames, impact:pathFimpact, logp:pathFlogp,
  L:1064, R:1738, T:2555, B:3232, x0px:1094, xk:3360, y0px:3259, yk:122, xmin:-0.025, xmax:0.2, xstep:0.05, ymin:0, ymax:6, ystep:1,
  rk:1721, cmin:0.45, cmax:5.52, ticksX:pathFticksX, tickLabX:pathFtickLabX, ticksY:pathFticksY,
  title:['5xFAD+QFY','5xFAD'], titleX:1418, ytX:1013,
  cbx:1784, cbTop:2655, cbBot:2891, cbLo:-0.15, cbHi:5.95, legColor:pathFlegColor,
  szTitleY:2972, szY0:3017, szDy:47, legImpact:pathFlegImpact, legLab:pathFlegLab,
  lines:[[4,1178,3043],[6,1101,3084],[5,1301,3080]],
  labels:[[0,1476,2570],[2,1126,2942],[1,1340,2972],[3,1073,3007],[4,1183,3043],[6,1106,3090],[5,1277,3091]]});
</script>
</body></html>
